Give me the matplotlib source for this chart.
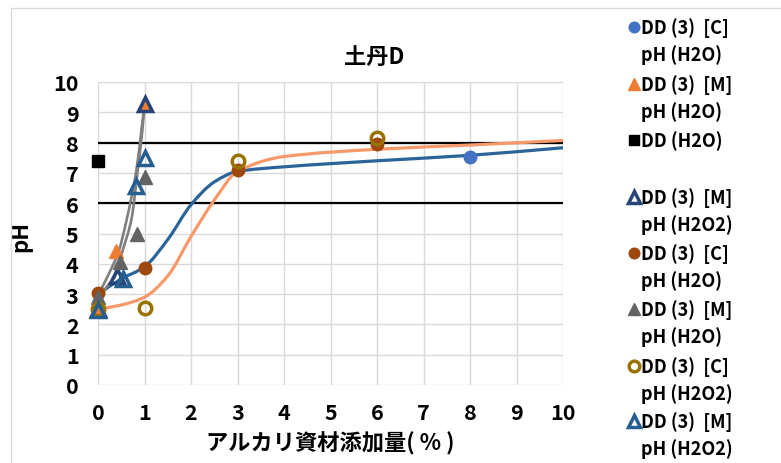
import matplotlib
matplotlib.use("Agg")
import matplotlib.pyplot as plt
from matplotlib.path import Path
from matplotlib.patches import PathPatch
from matplotlib.lines import Line2D

plt.rcParams['font.family'] = ['Noto Sans CJK JP', 'DejaVu Sans']
plt.rcParams['font.weight'] = 'bold'

# smooth lines
blue_x = [0, 0.5, 1, 1.5, 2, 2.5, 3, 4, 6, 8, 10]
blue_y = [3.0, 3.5, 3.9, 4.8, 5.95, 6.7, 7.05, 7.2, 7.4, 7.58, 7.83]
orange_x = [0, 0.5, 1, 1.5, 2, 2.5, 3, 4, 6, 8, 10]
orange_y = [2.5, 2.64, 2.9, 3.6, 4.9, 6.1, 7.05, 7.54, 7.78, 7.92, 8.07]
gray1_x = [0, 0.21, 0.44, 0.62, 0.82, 0.93, 1.0]
gray1_y = [2.95, 3.6, 4.39, 5.48, 7.03, 8.35, 9.27]
gray2_x = [0, 0.16, 0.37, 0.52, 0.72, 0.85, 0.95, 1.0]
gray2_y = [2.5, 3.17, 3.6, 4.39, 5.48, 7.03, 8.35, 9.27]

# marker series
c_h2o_x, c_h2o_y = [8], [7.53]
m_h2o_x, m_h2o_y = [0, 0.39, 1], [2.5, 4.42, 9.3]
dd_x, dd_y = [0], [7.4]
m_h2o2a_x, m_h2o2a_y = [0, 0.41, 1], [2.5, 3.6, 9.27]
c_h2o_b_x, c_h2o_b_y = [0, 1, 3, 6], [3.04, 3.87, 7.1, 7.95]
m_h2o_b_x, m_h2o_b_y = [0, 0.47, 0.84, 1], [2.9, 4.06, 5.0, 6.85]
c_h2o2_x, c_h2o2_y = [0, 1, 3, 6], [2.5, 2.54, 7.4, 8.15]
m_h2o2b_x, m_h2o2b_y = [0, 0.53, 0.82, 1], [2.48, 3.5, 6.57, 7.49]

ref_levels = [6, 8]

labels = ['DD (3)  [C]\npH (H2O)', 'DD (3)  [M]\npH (H2O)', 'DD (H2O)',
          'DD (3)  [M]\npH (H2O2)', 'DD (3)  [C]\npH (H2O)',
          'DD (3)  [M]\npH (H2O)', 'DD (3)  [C]\npH (H2O2)',
          'DD (3)  [M]\npH (H2O2)']


def smooth(ax, xs, ys, color, lw):
    # monotone cubic through the points, drawn as bezier segments
    n = len(xs)
    d = [(ys[i + 1] - ys[i]) / (xs[i + 1] - xs[i]) for i in range(n - 1)]
    m = [d[0]]
    for i in range(1, n - 1):
        if d[i - 1] * d[i] <= 0:
            m.append(0.0)
        else:
            m.append(2 / (1 / d[i - 1] + 1 / d[i]))
    m.append(d[-1])
    verts = [(xs[0], ys[0])]
    codes = [Path.MOVETO]
    for i in range(n - 1):
        h = xs[i + 1] - xs[i]
        verts += [(xs[i] + h / 3, ys[i] + m[i] * h / 3),
                  (xs[i + 1] - h / 3, ys[i + 1] - m[i + 1] * h / 3),
                  (xs[i + 1], ys[i + 1])]
        codes += [Path.CURVE4] * 3
    ax.add_patch(PathPatch(Path(verts, codes), fill=False, edgecolor=color,
                           lw=lw, zorder=3, capstyle='round'))


W, H = 781, 464
fig = plt.figure(figsize=(W / 100, H / 100), dpi=100)
ax = fig.add_axes([98 / W, (H - 386) / H, (563 - 98) / W, (386 - 83) / H])

ax.set_xlim(0, 10)
ax.set_ylim(0, 10)
ax.set_xticks(range(0, 11))
ax.set_yticks(range(0, 11))
ax.grid(True, color='#d9d9d9', lw=1)
ax.set_axisbelow(True)
for s in ax.spines.values():
    s.set_visible(False)
ax.tick_params(length=0, labelsize=15.5, pad=14)
ax.tick_params(axis='x', pad=12)

for lv in ref_levels:
    ax.axhline(lv, color='black', lw=1.6, zorder=2)

smooth(ax, blue_x, blue_y, '#2b6499', 2.3)
smooth(ax, orange_x, orange_y, '#f7996a', 2.3)
smooth(ax, gray1_x, gray1_y, '#7f7f7f', 1.9)
smooth(ax, gray2_x, gray2_y, '#7f7f7f', 1.9)

styles = [
    dict(marker='o', ms=9, mfc='#4472c4', mec='#4472c4'),
    dict(marker='^', ms=9.5, mfc='#ed7d31', mec='#ed7d31'),
    dict(marker='s', ms=8, mfc='black', mec='black'),
    dict(marker='^', ms=10, mfc='none', mec='#264478', mew=2.5),
    dict(marker='o', ms=9, mfc='#9e480e', mec='#9e480e'),
    dict(marker='^', ms=9.5, mfc='#636363', mec='#636363'),
    dict(marker='o', ms=9, mfc='none', mec='#997300', mew=2.5),
    dict(marker='^', ms=10, mfc='none', mec='#255e91', mew=2.5),
]
series = [(c_h2o_x, c_h2o_y), (m_h2o_x, m_h2o_y), (dd_x, dd_y),
          (m_h2o2a_x, m_h2o2a_y), (c_h2o_b_x, c_h2o_b_y),
          (m_h2o_b_x, m_h2o_b_y), (c_h2o2_x, c_h2o2_y),
          (m_h2o2b_x, m_h2o2b_y)]
order = [1, 5, 0, 4, 6, 2, 3, 7]
for i in order:
    xs, ys = series[i]
    ax.plot(xs, ys, ls='none', zorder=5 + i, clip_on=False, **styles[i])

ax.set_xlabel('アルカリ資材添加量( % )', fontsize=16, fontweight='bold', labelpad=6)
ax.set_ylabel('pH', fontsize=16, fontweight='bold')
ax.yaxis.set_label_coords(-(98 - 32) / (563 - 98), (386 - 236) / (386 - 83))
fig.text(374 / W, 1 - 58 / H, '土丹D', ha='center', va='center',
         fontsize=16, fontweight='bold')

# legend drawn by hand so the marker sits on the first text line
leg_y = [28, 85, 141, 198, 254, 310, 367, 422]
for i, yy in enumerate(leg_y):
    st = dict(styles[i])
    st['ms'] = st['ms'] * 0.85
    fig.add_artist(Line2D([634 / W], [1 - yy / H], transform=fig.transFigure,
                          ls='none', **st))
    for j, line in enumerate(labels[i].split('\n')):
        fig.text(641 / W, 1 - (yy + 27 * j) / H, line, ha='left', va='center',
                 fontsize=13, fontweight='bold')

# chart area border
fig.add_artist(Line2D([11 / W, 11 / W, 1], [0, 1 - 9 / H, 1 - 9 / H],
                      transform=fig.transFigure, color='#d9d9d9', lw=1))

fig.savefig('out.png', dpi=100)
